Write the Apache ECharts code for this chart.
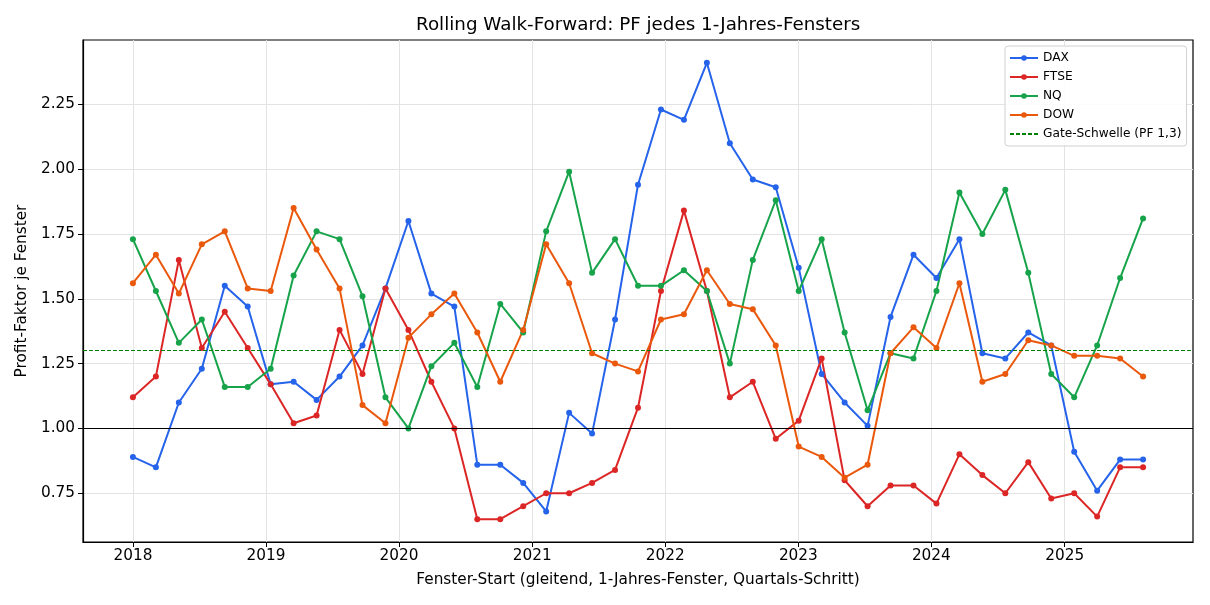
<!DOCTYPE html>
<html><head><meta charset="utf-8">
<script src="https://cdn.jsdelivr.net/npm/echarts@6/dist/echarts.min.js"></script>
<style>html,body{margin:0;padding:0;background:#fff}#c{width:1210px;height:605px}</style>
</head><body><div id="c"></div>
<script>
const dates = ['2018-01-01','2018-03-05','2018-05-07','2018-07-09','2018-09-10','2018-11-12',
 '2019-01-14','2019-03-18','2019-05-20','2019-07-22','2019-09-23','2019-11-25',
 '2020-01-27','2020-03-30','2020-06-01','2020-08-03','2020-10-05','2020-12-07',
 '2021-02-08','2021-04-12','2021-06-14','2021-08-16','2021-10-18','2021-12-20',
 '2022-02-21','2022-04-25','2022-06-27','2022-08-29','2022-10-31',
 '2023-01-02','2023-03-06','2023-05-08','2023-07-10','2023-09-11','2023-11-13',
 '2024-01-15','2024-03-18','2024-05-20','2024-07-22','2024-09-23','2024-11-25',
 '2025-01-27','2025-03-31','2025-06-02','2025-08-04'];
const dax = [0.89,0.85,1.10,1.23,1.55,1.47,1.17,1.18,1.11,1.20,1.32,1.54,1.80,1.52,1.47,0.86,0.86,0.79,0.68,1.06,0.98,1.42,1.94,2.23,2.19,2.41,2.10,1.96,1.93,1.62,1.21,1.10,1.01,1.43,1.67,1.58,1.73,1.29,1.27,1.37,1.32,0.91,0.76,0.88,0.88];
const ftse = [1.12,1.20,1.65,1.31,1.45,1.31,1.17,1.02,1.05,1.38,1.21,1.54,1.38,1.18,1.00,0.65,0.65,0.70,0.75,0.75,0.79,0.84,1.08,1.53,1.84,1.53,1.12,1.18,0.96,1.03,1.27,0.80,0.70,0.78,0.78,0.71,0.90,0.82,0.75,0.87,0.73,0.75,0.66,0.85,0.85];
const nq = [1.73,1.53,1.33,1.42,1.16,1.16,1.23,1.59,1.76,1.73,1.51,1.12,1.00,1.24,1.33,1.16,1.48,1.37,1.76,1.99,1.60,1.73,1.55,1.55,1.61,1.53,1.25,1.65,1.88,1.53,1.73,1.37,1.07,1.29,1.27,1.53,1.91,1.75,1.92,1.60,1.21,1.12,1.32,1.58,1.81];
const dow = [1.56,1.67,1.52,1.71,1.76,1.54,1.53,1.85,1.69,1.54,1.09,1.02,1.35,1.44,1.52,1.37,1.18,1.38,1.71,1.56,1.29,1.25,1.22,1.42,1.44,1.61,1.48,1.46,1.32,0.93,0.89,0.81,0.86,1.29,1.39,1.31,1.56,1.18,1.21,1.34,1.32,1.28,1.28,1.27,1.20];
const yTicks = [0.75,1.00,1.25,1.50,1.75,2.00,2.25];
const xTickYears = [2018,2019,2020,2021,2022,2023,2024,2025];
const gateValue = 1.3;
const baseValue = 1.0;

const toTs = s => { const p = s.split('-').map(Number); return Date.UTC(p[0], p[1]-1, p[2]); };
const xTicks = xTickYears.map(y => Date.UTC(y,0,1));
const seriesDefs = [['DAX',dax,'#2563eb'],['FTSE',ftse,'#dc2626'],['NQ',nq,'#16a34a'],['DOW',dow,'#ea580c']];
const font = 'DejaVu Sans';
const chart = echarts.init(document.getElementById('c'));
const series = seriesDefs.map(([n,v,c]) => ({
  name:n, type:'line', data: dates.map((d,i)=>[toTs(d), v[i]]),
  symbol:'circle', symbolSize:6, showSymbol:true,
  lineStyle:{width:2,color:c}, itemStyle:{color:c}, color:c, z:3, animation:false
}));
series.push({
  name:'Gate-Schwelle (PF 1,3)', type:'line', data:[], symbol:'none', color:'#008000',
  lineStyle:{type:[4,2],width:1.2,color:'#008000'},
  markLine:{silent:true, symbol:'none', label:{show:false}, animation:false,
    data:[{yAxis:gateValue, lineStyle:{type:[4,2],width:1.2,color:'#008000'}},
          {yAxis:baseValue, lineStyle:{type:'solid',width:1.2,color:'#000'}}]},
  z:2
});
chart.setOption({
  animation:false,
  title:{text:'Rolling Walk-Forward: PF jedes 1-Jahres-Fensters', left:411, top:11,
    textStyle:{fontFamily:font, fontSize:18.3, fontWeight:'normal', color:'#000'}},
  grid:{left:83, right:17, top:40, bottom:63, show:true, borderColor:'#000', borderWidth:1.2, backgroundColor:'transparent'},
  legend:{orient:'vertical', left:1005, top:46, padding:[6,5,6,4], itemWidth:28, itemHeight:7, itemGap:7,
    borderColor:'#d0d0d0', borderWidth:1, borderRadius:3, backgroundColor:'rgba(255,255,255,0.85)',
    textStyle:{fontFamily:font, fontSize:12.2, color:'#000'},
    data:['DAX','FTSE','NQ','DOW',{name:'Gate-Schwelle (PF 1,3)', itemStyle:{opacity:0}}]},
  xAxis:{type:'value', min:Date.UTC(2017,7,17), max:Date.UTC(2025,11,19),
    name:'Fenster-Start (gleitend, 1-Jahres-Fenster, Quartals-Schritt)', nameLocation:'middle', nameGap:31,
    nameTextStyle:{fontFamily:font, fontSize:15.3, color:'#000'},
    axisLine:{lineStyle:{color:'#000',width:1.2}},
    axisTick:{show:true, inside:false, length:5, customValues:xTicks, lineStyle:{color:'#000'}},
    axisLabel:{customValues:xTicks, formatter:v=>String(new Date(v).getUTCFullYear()), fontFamily:font, fontSize:15.3, color:'#000', margin:7},
    splitLine:{show:true, lineStyle:{color:'#e3e3e3',width:1}}},
  yAxis:{type:'value', min:0.562, max:2.498,
    name:'Profit-Faktor je Fenster', nameLocation:'middle', nameGap:53,
    nameTextStyle:{fontFamily:font, fontSize:15.3, color:'#000'},
    axisLine:{show:true, lineStyle:{color:'#000',width:1.2}},
    axisTick:{show:true, length:5, customValues:yTicks, lineStyle:{color:'#000'}},
    axisLabel:{customValues:yTicks, formatter:v=>v.toFixed(2), fontFamily:font, fontSize:15.3, color:'#000', margin:8},
    splitLine:{show:true, lineStyle:{color:'#e3e3e3',width:1}}},
  series
});
</script></body></html>
